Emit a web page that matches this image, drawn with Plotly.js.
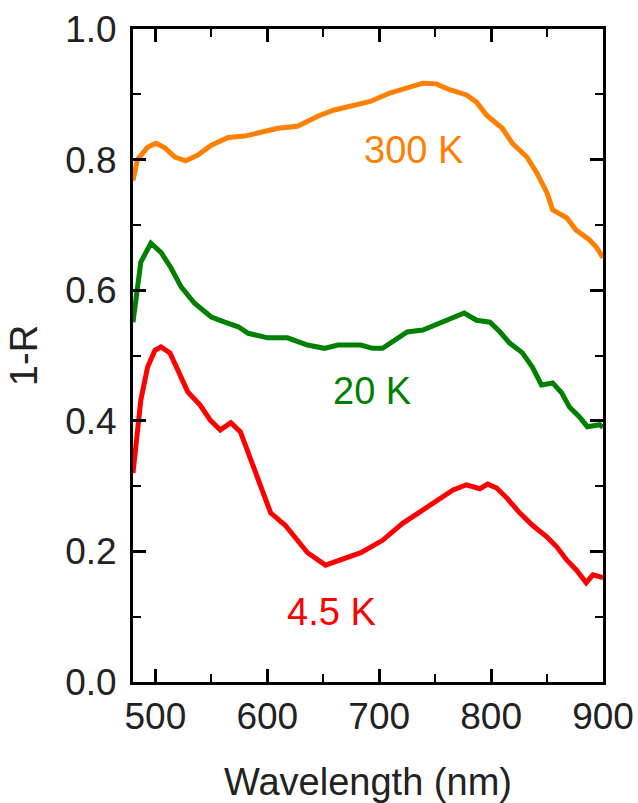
<!DOCTYPE html>
<html>
<head>
<meta charset="utf-8">
<script src="https://cdn.plot.ly/plotly-3.0.1.min.js"></script>
<style>html,body{margin:0;padding:0;background:#fff;}#chart{width:638px;height:803px;}</style>
</head>
<body>
<div id="chart"></div>
<script>
// 300 K curve
const wl300 = [480,484,493,500.5,508.5,517.5,527,538,550,565,580,594,609.5,627,636,647,660,678,692,709.5,727,739,751,763,778,787,796,810,819,832,841,850,855,867.5,876,888,894,900];
const r300  = [0.768,0.80,0.819,0.825,0.818,0.804,0.798,0.807,0.822,0.834,0.836,0.841,0.848,0.851,0.858,0.868,0.876,0.884,0.889,0.902,0.911,0.917,0.916,0.907,0.899,0.888,0.868,0.848,0.825,0.804,0.779,0.749,0.723,0.711,0.692,0.677,0.666,0.650];
// 20 K curve
const wl20 = [480,483,487,496,505,514,523,535,550,562,574,583,600.5,618,636,651,663,683.6,694,703,712,725,739,754,766,776,787,799,808,816.6,828,837,845,855,863,870,879,886,897,900];
const r20  = [0.551,0.597,0.643,0.672,0.658,0.634,0.605,0.580,0.559,0.551,0.544,0.534,0.527,0.527,0.516,0.511,0.516,0.516,0.511,0.511,0.521,0.536,0.539,0.550,0.559,0.565,0.554,0.551,0.536,0.519,0.504,0.482,0.455,0.458,0.443,0.421,0.406,0.391,0.394,0.390];
// 4.5 K curve
const wl45 = [480,483,487,493,499.6,505,513,520,529,540,549,558,567.5,576,585,594,603,616,624.6,636,652,669,683.6,694,703,721,736,751,766,778,790,797,805,814,825.5,837,850,858.6,867.5,876,885,891,897,900];
const r45  = [0.320,0.371,0.432,0.482,0.508,0.513,0.504,0.478,0.444,0.424,0.401,0.386,0.397,0.383,0.340,0.299,0.259,0.240,0.222,0.198,0.179,0.190,0.198,0.208,0.217,0.243,0.260,0.276,0.294,0.302,0.296,0.303,0.297,0.282,0.259,0.240,0.222,0.207,0.187,0.172,0.152,0.164,0.161,0.160];

const seriesNames = ["300 K","20 K","4.5 K"];
const labelX = [731, 694, 657];
const labelY = [0.815, 0.446, 0.107];
const colors = ["#FF8000","#008000","#FF0000"];

const xs = [wl300, wl20, wl45];
const ys = [r300, r20, r45];

const traces = xs.map((x,i)=>({
  x: x, y: ys[i], type:'scatter', mode:'lines', name: seriesNames[i],
  line:{color:colors[i], width:5}
}));

const fontFam = 'Arial, "Liberation Sans", sans-serif';
const axisCommon = {
  showline:true, linecolor:'#000', linewidth:3, mirror:'ticks',
  ticks:'inside', ticklen:13, tickwidth:3, tickcolor:'#000',
  showgrid:false, zeroline:false,
  tickfont:{family:fontFam, size:37, color:'#222'}
};

const layout = {
  width:638, height:803,
  margin:{l:133, r:35, t:29, b:121},
  paper_bgcolor:'#fff', plot_bgcolor:'#fff',
  showlegend:false,
  xaxis: Object.assign({}, axisCommon, {
    range:[480,900], dtick:100, tick0:500,
    minor:{ticks:'inside', ticklen:8, tickwidth:2, dtick:50, tickcolor:'#000'},
    title:{text:'Wavelength (nm)', font:{family:fontFam, size:38, color:'#222'}, standoff:38}
  }),
  yaxis: Object.assign({}, axisCommon, {
    range:[0,1], dtick:0.2, tick0:0, tickformat:'.1f', ticklabelstandoff:6,
    minor:{ticks:'inside', ticklen:8, tickwidth:2, dtick:0.1, tickcolor:'#000'},
    title:{text:'1-R', font:{family:fontFam, size:38, color:'#222'}, standoff:16}
  }),
  annotations: seriesNames.map((t,i)=>({
    x: labelX[i], y: labelY[i], xref:'x', yref:'y', text:t, showarrow:false,
    font:{family:fontFam, size:38, color:colors[i]}
  }))
};

Plotly.newPlot('chart', traces, layout, {displayModeBar:false, staticPlot:true});
</script>
</body>
</html>
